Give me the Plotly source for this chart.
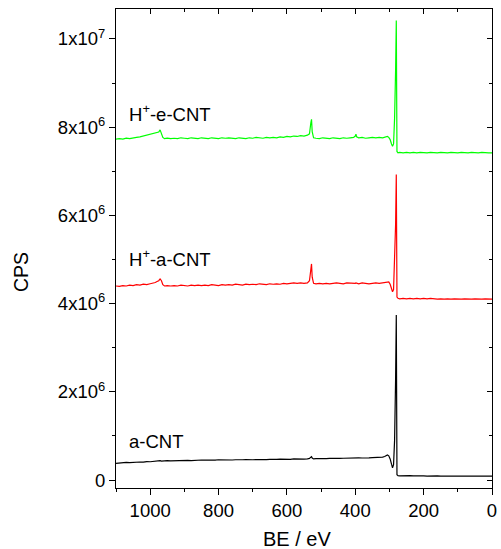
import plotly.graph_objects as go

# Binding energy (eV)
be = [
    1100, 1090, 1080, 1070, 1060, 1050, 1040, 1030, 1020, 1010,
    1000, 990, 985, 980, 975, 971, 967, 963, 958, 950,
    940, 930, 920, 910, 900, 890, 880, 870, 860, 850,
    840, 830, 820, 810, 800, 790, 780, 770, 760, 750,
    740, 730, 720, 710, 700, 690, 680, 670, 660, 650,
    640, 630, 620, 610, 600, 590, 580, 570, 560, 550,
    540, 534, 530, 528, 526, 522, 515, 505, 495, 485,
    475, 465, 455, 445, 435, 425, 415, 405, 400, 398,
    396, 390, 380, 370, 360, 350, 340, 330, 320, 314,
    310, 306, 302, 298, 294, 291, 288, 285, 282, 280,
    278, 275, 270, 260, 250, 240, 230, 220, 210, 200,
    190, 180, 170, 160, 150, 140, 130, 120, 110, 100,
    90, 80, 70, 60, 50, 40, 30, 20, 10, 0,
]

# CPS in units of 1e6
a_cnt = [
    0.38, 0.39, 0.385, 0.40, 0.395, 0.405, 0.40, 0.41, 0.405, 0.42,
    0.415, 0.425, 0.42, 0.43, 0.425, 0.44, 0.43, 0.435, 0.43, 0.44,
    0.435, 0.44, 0.445, 0.44, 0.45, 0.445, 0.44, 0.45, 0.445, 0.455,
    0.45, 0.445, 0.455, 0.45, 0.46, 0.455, 0.45, 0.46, 0.455, 0.46,
    0.455, 0.46, 0.465, 0.455, 0.46, 0.465, 0.46, 0.47, 0.465, 0.47,
    0.465, 0.47, 0.475, 0.47, 0.475, 0.47, 0.48, 0.475, 0.48, 0.475,
    0.48, 0.49, 0.52, 0.53, 0.50, 0.48, 0.485, 0.48, 0.49, 0.485,
    0.49, 0.485, 0.495, 0.49, 0.495, 0.50, 0.495, 0.50, 0.505, 0.50,
    0.50, 0.505, 0.50, 0.51, 0.505, 0.51, 0.515, 0.51, 0.52, 0.535,
    0.555, 0.57, 0.55, 0.48, 0.36, 0.28, 0.35, 0.9, 2.3, 3.74,
    0.12, 0.10, 0.095, 0.10, 0.095, 0.10, 0.095, 0.10, 0.09, 0.095,
    0.09, 0.095, 0.09, 0.095, 0.09, 0.09, 0.095, 0.09, 0.09, 0.095,
    0.09, 0.09, 0.085, 0.09, 0.09, 0.085, 0.09, 0.09, 0.085, 0.09,
]

h_a_cnt = [
    4.40, 4.39, 4.41, 4.40, 4.42, 4.41, 4.43, 4.42, 4.44, 4.43,
    4.45, 4.46, 4.48, 4.50, 4.52, 4.56, 4.52, 4.43, 4.40, 4.41,
    4.40, 4.41, 4.40, 4.42, 4.41, 4.40, 4.42, 4.41, 4.42, 4.41,
    4.42, 4.41, 4.43, 4.42, 4.41, 4.43, 4.42, 4.43, 4.42, 4.44,
    4.43, 4.42, 4.44, 4.43, 4.44, 4.43, 4.45, 4.44, 4.43, 4.45,
    4.44, 4.45, 4.44, 4.46, 4.45, 4.46, 4.47, 4.46, 4.47, 4.46,
    4.47, 4.52, 4.80, 4.90, 4.60, 4.46, 4.45, 4.46, 4.45, 4.46,
    4.45, 4.46, 4.47, 4.46, 4.45, 4.47, 4.46, 4.45, 4.46, 4.47,
    4.46, 4.45, 4.47, 4.46, 4.45, 4.46, 4.47, 4.46, 4.47, 4.48,
    4.49, 4.50, 4.49, 4.44, 4.34, 4.27, 4.32, 4.9, 5.8, 6.93,
    4.15, 4.12, 4.11, 4.12, 4.11, 4.12, 4.11, 4.12, 4.11, 4.12,
    4.11, 4.12, 4.11, 4.10, 4.11, 4.10, 4.11, 4.10, 4.11, 4.10,
    4.10, 4.11, 4.10, 4.10, 4.11, 4.10, 4.10, 4.11, 4.10, 4.10,
]

h_e_cnt = [
    7.73, 7.74, 7.73, 7.75, 7.74, 7.76, 7.77, 7.78, 7.80, 7.81,
    7.83, 7.85, 7.86, 7.87, 7.89, 7.94, 7.86, 7.77, 7.74, 7.75,
    7.74, 7.75, 7.74, 7.76, 7.75, 7.74, 7.76, 7.75, 7.74, 7.76,
    7.75, 7.74, 7.76, 7.75, 7.74, 7.76, 7.75, 7.76, 7.75, 7.74,
    7.76, 7.75, 7.74, 7.76, 7.75, 7.77, 7.76, 7.75, 7.77, 7.76,
    7.77, 7.76, 7.78, 7.77, 7.79, 7.78, 7.80, 7.79, 7.81, 7.80,
    7.82, 7.85, 8.10, 8.18, 7.90, 7.76, 7.75, 7.74, 7.76, 7.75,
    7.74, 7.76, 7.75, 7.74, 7.76, 7.75, 7.76, 7.77, 7.80, 7.84,
    7.78, 7.76, 7.77, 7.75, 7.76, 7.77, 7.76, 7.77, 7.76, 7.77,
    7.78, 7.79, 7.77, 7.72, 7.62, 7.57, 7.62, 8.2, 9.3, 10.42,
    7.45, 7.42, 7.43, 7.42, 7.43, 7.42, 7.43, 7.42, 7.43, 7.42,
    7.42, 7.43, 7.42, 7.42, 7.43, 7.42, 7.42, 7.43, 7.42, 7.42,
    7.43, 7.42, 7.42, 7.43, 7.42, 7.42, 7.43, 7.42, 7.42, 7.42,
]

series_names = ["a-CNT", "H<sup>+</sup>-a-CNT", "H<sup>+</sup>-e-CNT"]
series_colors = ["#000000", "#ff0000", "#00ff00"]
y_tick_vals = [0, 2e6, 4e6, 6e6, 8e6, 1e7]
y_tick_text = ["0", "2x10<sup>6</sup>", "4x10<sup>6</sup>", "6x10<sup>6</sup>",
               "8x10<sup>6</sup>", "1x10<sup>7</sup>"]
x_tick_vals = [1000, 800, 600, 400, 200, 0]

FONT = "Liberation Sans, Arial, sans-serif"
W, H = 501, 549
L, R, T, B = 116, 492, 9, 488

fig = go.Figure()
for vals, name, col in zip([a_cnt, h_a_cnt, h_e_cnt], series_names, series_colors):
    fig.add_trace(go.Scatter(
        x=be, y=[v * 1e6 for v in vals], mode="lines", name=name,
        line=dict(color=col, width=1.2), showlegend=False,
    ))

# dummy trace to create mirrored axes (top / right) with inside ticks
fig.add_trace(go.Scatter(x=[None], y=[None], xaxis="x2", yaxis="y2",
                         showlegend=False, hoverinfo="skip"))

xr = [1100, 0]
yr = [-0.18e6, 10.68e6]

fig.update_layout(
    width=W, height=H,
    margin=dict(l=L, r=W - R, t=T, b=H - B, pad=0),
    paper_bgcolor="white", plot_bgcolor="white",
    font=dict(family=FONT, size=18, color="black"),
    xaxis=dict(
        range=xr, tickmode="array", tickvals=x_tick_vals,
        ticks="outside", ticklen=6, tickwidth=1, tickcolor="black",
        showline=True, linecolor="black", linewidth=1.2,
        showgrid=False, zeroline=False, automargin=False,
        tickfont=dict(size=18.5, family=FONT),
        minor=dict(tickmode="linear", tick0=0, dtick=100, ticks="outside",
                   ticklen=3, tickwidth=1, tickcolor="black", showgrid=False),
    ),
    yaxis=dict(
        range=yr, tickmode="array", tickvals=y_tick_vals, ticktext=y_tick_text,
        ticks="outside", ticklen=6, tickwidth=1, tickcolor="black",
        showline=True, linecolor="black", linewidth=1.2,
        showgrid=False, zeroline=False, automargin=False,
        tickfont=dict(size=18.5, family=FONT),
        minor=dict(tickmode="linear", tick0=0, dtick=1e6, ticks="outside",
                   ticklen=3, tickwidth=1, tickcolor="black", showgrid=False),
    ),
    xaxis2=dict(
        overlaying="x", side="top", range=xr, anchor="y2",
        tickmode="linear", tick0=0, dtick=200, showticklabels=False,
        ticks="inside", ticklen=5, tickwidth=1, tickcolor="black",
        showline=True, linecolor="black", linewidth=1.2,
        showgrid=False, zeroline=False,
        minor=dict(tickmode="linear", tick0=0, dtick=100, ticks="inside",
                   ticklen=3, tickwidth=1, tickcolor="black", showgrid=False),
    ),
    yaxis2=dict(
        overlaying="y", side="right", range=yr, anchor="x2",
        tickmode="linear", tick0=0, dtick=2e6, showticklabels=False,
        ticks="inside", ticklen=5, tickwidth=1, tickcolor="black",
        showline=True, linecolor="black", linewidth=1.2,
        showgrid=False, zeroline=False,
        minor=dict(tickmode="linear", tick0=0, dtick=1e6, ticks="inside",
                   ticklen=3, tickwidth=1, tickcolor="black", showgrid=False),
    ),
)

def px(xp):
    return (xp - L) / (R - L)

def py(yp):
    return (B - yp) / (B - T)

annots = [
    dict(text="H<sup>+</sup>-e-CNT", x=px(127), y=py(113), xanchor="left", yanchor="middle"),
    dict(text="H<sup>+</sup>-a-CNT", x=px(127), y=py(258), xanchor="left", yanchor="middle"),
    dict(text="a-CNT", x=px(127), y=py(441), xanchor="left", yanchor="middle"),
    dict(text="BE / eV", x=px(297), y=py(539), xanchor="center", yanchor="middle",
         font=dict(size=20, family=FONT)),
    dict(text="CPS", x=px(21), y=py(272), xanchor="center", yanchor="middle",
         textangle=-90, font=dict(size=19.5, family=FONT)),
]
for a in annots:
    a.setdefault("font", dict(size=18.5, family=FONT))
    fig.add_annotation(xref="paper", yref="paper", showarrow=False, **a)

fig.write_html(
    "out.html",
    config={"displayModeBar": False},
    post_script="document.body.style.margin='0';document.body.style.padding='0';"
                "document.body.style.overflow='hidden';",
)
